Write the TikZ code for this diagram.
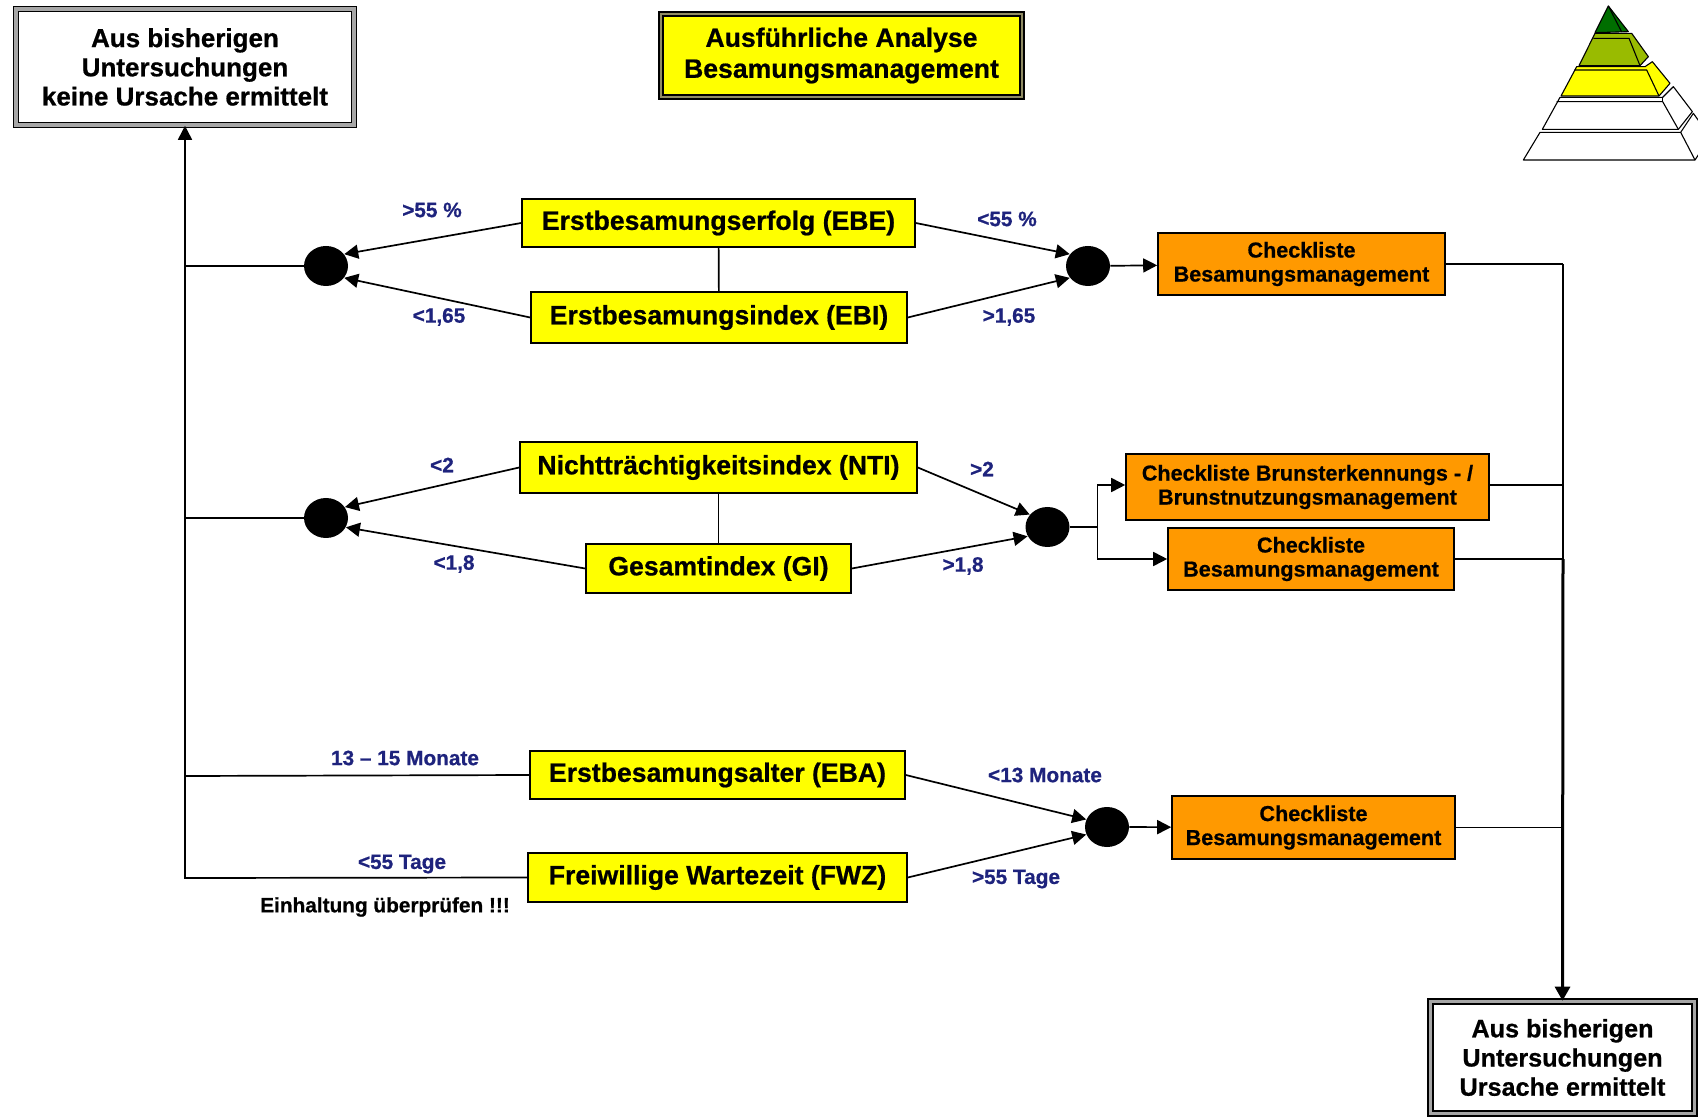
\documentclass[tikz,border=0pt]{standalone}
\usepackage{fontspec}
\setmainfont{Liberation Sans}[BoldFont=Liberation Sans Bold, BoldFeatures={FakeBold=0.7}]
\usetikzlibrary{arrows.meta,shapes.geometric}
\definecolor{boxyellow}{RGB}{255,255,0}
\definecolor{boxorange}{RGB}{255,153,0}
\definecolor{labelblue}{RGB}{30,35,125}
\definecolor{pyrlime}{RGB}{153,187,0}
\definecolor{pyrdark}{RGB}{0,110,0}
\tikzset{
	arr/.style={-{Triangle[length=7pt,width=7pt]}, line width=0.85pt},
	thinline/.style={line width=0.85pt},
	yellowbox/.style={draw, line width=0.8pt, fill=boxyellow, inner sep=0pt, align=center, font=\fontsize{13.3}{15}\bfseries},
	orangebox/.style={draw, line width=0.8pt, fill=boxorange, inner sep=0pt, align=center, font=\fontsize{10.8}{12}\bfseries},
	framebox/.style={draw, double=gray!70, double distance=1.6pt, line width=0.8pt, fill=white, inner sep=0pt, align=center, font=\fontsize{13}{14.6}\bfseries},
	dot/.style={ellipse, fill=black, minimum width=22pt, minimum height=20pt, inner sep=0pt},
	limit/.style={text=labelblue, inner sep=0pt, font=\fontsize{10.4}{12}\bfseries},
	pyr/.style={draw, line width=0.55pt, line join=round},
}
\begin{document}
\begin{tikzpicture}[x=0.5pt, y=-0.5pt]
	\useasboundingbox (0,0) rectangle (1698,1117);
	% result boxes and title
	\node[framebox, minimum width=169pt, minimum height=58pt] (keine) at (185,67) {Aus bisherigen\\Untersuchungen\\keine Ursache ermittelt};
	\node[framebox, minimum width=132pt, minimum height=56pt, font=\fontsize{12.6}{14.6}\bfseries] (ursache) at (1562.5,1057.5) {Aus bisherigen\\Untersuchungen\\Ursache ermittelt};
	\node[yellowbox, double=gray!70!olive, double distance=1.4pt, minimum width=180.5pt, minimum height=41.5pt, font=\fontsize{13.3}{15.5}\bfseries] (titel) at (841.5,55.5) {Ausführliche Analyse\\Besamungsmanagement};
	% yellow boxes
	\node[yellowbox, minimum width=196.5pt, minimum height=24pt] (ebe) at (718.5,223) {Erstbesamungserfolg (EBE)};
	\node[yellowbox, minimum width=188pt, minimum height=25.5pt] (ebi) at (719,317.5) {Erstbesamungsindex (EBI)};
	\node[yellowbox, minimum width=198.5pt, minimum height=25.5pt] (nti) at (718.5,467.5) {Nichtträchtigkeitsindex (NTI)};
	\node[yellowbox, minimum width=132.5pt, minimum height=24.5pt] (gi) at (718.5,568.5) {Gesamtindex (GI)};
	\node[yellowbox, minimum width=187.5pt, minimum height=24pt] (eba) at (717.5,775) {Erstbesamungsalter (EBA)};
	\node[yellowbox, minimum width=189.5pt, minimum height=24.5pt] (fwz) at (717.5,877.5) {Freiwillige Wartezeit (FWZ)};
	% orange boxes
	\node[orangebox, minimum width=143.5pt, minimum height=31pt] (ckone) at (1301.5,264) {Checkliste\\Besamungsmanagement};
	\node[orangebox, minimum width=181.5pt, minimum height=33pt] (cktwo) at (1307.5,487) {Checkliste Brunsterkennungs - /\\Brunstnutzungsmanagement};
	\node[orangebox, minimum width=143pt, minimum height=31pt] (ckthree) at (1311,559) {Checkliste\\Besamungsmanagement};
	\node[orangebox, minimum width=141.5pt, minimum height=31.5pt] (ckfour) at (1313.5,827.5) {Checkliste\\Besamungsmanagement};
	% dots
	\node[dot] (dotal) at (326,266) {};
	\node[dot] (dotar) at (1088,266) {};
	\node[dot] (dotbl) at (326,518) {};
	\node[dot] (dotbr) at (1047.5,527) {};
	\node[dot] (dotcr) at (1107,827) {};
	% junctions
	\coordinate (ja) at (185,266);
	\coordinate (jb) at (185,518);
	\coordinate (jc) at (185,776);
	\coordinate (jd) at (185,878);
	\coordinate (ra) at (1563,264);
	\coordinate (rb) at (1563,485);
	\coordinate (rc) at (1563,559);
	\coordinate (rd) at (1563,827.5);
	\coordinate (bt) at (1097.5,485);
	\coordinate (bm) at (1097.5,527);
	\coordinate (bb) at (1097.5,559);
	% connectors
	\draw[arr] (ebe.west) -- (dotal.33);
	\draw[arr] (ebi.west) -- (dotal.-33);
	\draw[arr] (ebe.east) -- (dotar.147);
	\draw[arr] (ebi.east) -- (dotar.213);
	\draw[arr] (nti.west) -- (dotbl.30);
	\draw[arr] (gi.west) -- (dotbl.-25);
	\draw[arr] (nti.east) -- (dotbr.145);
	\draw[arr] (gi.east) -- (dotbr.205);
	\draw[arr] (eba.east) -- (dotcr.160);
	\draw[arr] (fwz.east) -- (dotcr.200);
	\draw[thinline] (ebe) -- (ebi);
	\draw[thinline] (nti) -- (gi);
	\draw[arr] (dotar) -- (ckone);
	\draw[arr] (dotcr) -- (ckfour);
	\draw[thinline] (dotbr) -- (bm);
	\draw[arr] (bm) -- (bt) -- (cktwo.west |- bt);
	\draw[arr] (bm) -- (bb) -- (ckthree.west);
	\draw[thinline] (dotal) -- (ja);
	\draw[thinline] (dotbl) -- (jb);
	\draw[thinline] (eba.west) -- (jc);
	\draw[arr] (fwz.west) -- (jd) -- (keine.south);
	\draw[thinline] (ckone.east) -- (ra);
	\draw[thinline] (cktwo.east |- rb) -- (rb);
	\draw[thinline] (ckthree.east) -- (rc);
	\draw[thinline] (ckfour.east) -- (rd);
	\draw[thinline] (ra) -- (rc);
	\draw[-{Triangle[length=7pt,width=7.5pt]}, line width=1.5pt] (rc) -- (ursache.north);
	% limits
	\node[limit] (la) at (432,210) {>55 \%};
	\node[limit] (lb) at (1007,219) {<55 \%};
	\node[limit] (lc) at (439,317) {<1,65};
	\node[limit] (ld) at (1009,317) {>1,65};
	\node[limit] (le) at (442,465) {<2};
	\node[limit] (lf) at (982,469) {>2};
	\node[limit] (lg) at (454,564) {<1,8};
	\node[limit] (lh) at (963,566) {>1,8};
	\node[limit] (li) at (405,758) {13 -- 15 Monate};
	\node[limit] (lj) at (1045,775) {<13 Monate};
	\node[limit] (lk) at (402,864) {<55 Tage};
	\node[limit] (ll) at (1016,879) {>55 Tage};
	\node[limit, text=black] (hinweis) at (385,907) {Einhaltung überprüfen !!!};
	% pyramid
	\begin{scope}[shift={(1480,0)}, x=0.16667pt, y=-0.16667pt]
		\draw[pyr, fill=white] (180,397) -- (602,397) -- (640,340) -- (690,410) -- (645,480) -- (130,480) -- cycle;
		\draw[pyr] (602,397) -- (645,480);
		\draw[pyr, fill=white] (240,292) -- (548,292) -- (580,260) -- (637,335) -- (595,388) -- (187,388) -- cycle;
		\draw[pyr] (230,305) -- (548,305) -- (595,388);
		\draw[pyr] (548,292) -- (548,305);
		\draw[pyr, fill=boxyellow] (290,200) -- (495,200) -- (517,185) -- (570,250) -- (537,288) -- (243,288) -- cycle;
		\draw[pyr] (283,210) -- (500,210) -- (537,288);
		\draw[pyr, fill=pyrlime] (345,100) -- (455,100) -- (505,170) -- (480,197) -- (297,197) -- cycle;
		\draw[pyr] (340,115) -- (447,115) -- (480,197);
		\draw[pyr, fill=pyrdark] (385,18) -- (445,95) -- (345,98) -- cycle;
		\draw[pyr] (385,18) -- (425,96);
	\end{scope}
\end{tikzpicture}
\end{document}
